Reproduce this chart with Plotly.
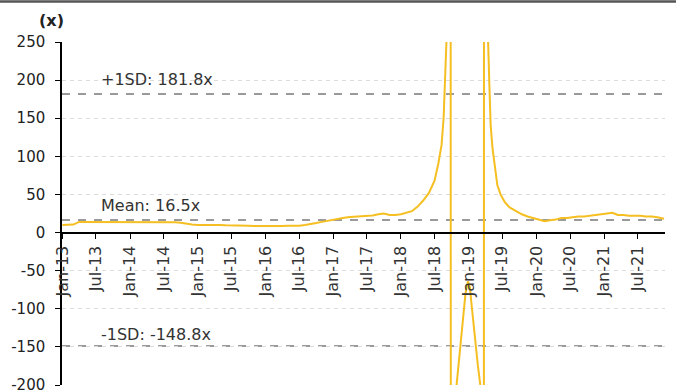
import plotly.graph_objects as go

# ---- data ----
dates = [
    "2013-01-01", "2013-02-01", "2013-03-01", "2013-04-01", "2013-05-01", "2013-06-01",
    "2013-07-01", "2013-08-01", "2013-09-01", "2013-10-01", "2013-11-01", "2013-12-01",
    "2014-01-01", "2014-02-01", "2014-03-01", "2014-04-01", "2014-05-01", "2014-06-01",
    "2014-07-01", "2014-08-01", "2014-09-01", "2014-10-01", "2014-11-01", "2014-12-01",
    "2015-01-01", "2015-02-01", "2015-03-01", "2015-04-01", "2015-05-01", "2015-06-01",
    "2015-07-01", "2015-08-01", "2015-09-01", "2015-10-01", "2015-11-01", "2015-12-01",
    "2016-01-01", "2016-02-01", "2016-03-01", "2016-04-01", "2016-05-01", "2016-06-01",
    "2016-07-01", "2016-08-01", "2016-09-01", "2016-10-01", "2016-11-01", "2016-12-01",
    "2017-01-01", "2017-02-01", "2017-03-01", "2017-04-01", "2017-05-01", "2017-06-01",
    "2017-07-01", "2017-08-01", "2017-09-01", "2017-10-01", "2017-11-01", "2017-12-01",
    "2018-01-01", "2018-02-01", "2018-03-01", "2018-04-01", "2018-05-01", "2018-06-01",
    "2018-07-01", "2018-07-22", "2018-08-08", "2018-08-19", "2018-08-28", "2018-09-04",
    "2018-09-12", "2018-09-22", "2018-10-01", "2018-10-15", "2018-10-28", "2018-11-08",
    "2018-11-18", "2018-11-28", "2018-12-05", "2018-12-15", "2018-12-28", "2019-01-08",
    "2019-01-17", "2019-01-28", "2019-02-08", "2019-02-20", "2019-03-05", "2019-03-14",
    "2019-03-22", "2019-03-27", "2019-04-05", "2019-04-16", "2019-04-22", "2019-04-30",
    "2019-05-10", "2019-05-22", "2019-06-05", "2019-06-22", "2019-07-15", "2019-08-10",
    "2019-09-15", "2019-10-15", "2019-11-15", "2019-12-15", "2020-01-15", "2020-02-15",
    "2020-03-15", "2020-04-15", "2020-05-15", "2020-06-15", "2020-07-15", "2020-08-15",
    "2020-09-15", "2020-10-15", "2020-11-15", "2020-12-15", "2021-01-15", "2021-02-15",
    "2021-03-15", "2021-04-15", "2021-05-15", "2021-06-15", "2021-07-15", "2021-08-15",
    "2021-09-15", "2021-10-15", "2021-11-20",
]
pe_values = [
    10, 10, 10.5, 14, 14, 13.5,
    13.5, 14, 13.5, 13.5, 14, 13.5,
    13.5, 13.5, 14, 13.5, 13.5, 14,
    14, 13.5, 13.5, 13, 11.5, 10.5,
    10, 10, 10.5, 10, 10, 9.5,
    9.5, 9, 9, 9, 8.5, 8.5,
    8, 8, 8.5, 8.5, 9, 9,
    9, 10, 11, 12.5, 14, 15.5,
    17, 18.5, 19.5, 20.5, 21, 21.5,
    22, 22.5, 24, 25, 23, 23,
    24, 26, 28, 34, 42, 52,
    68, 91, 115, 150, 200, 255,
    600, 3000, -3000, -320, -200, -170,
    -150, -122, -100, -80, -64, -72,
    -95, -122, -150, -175, -200, -320,
    -3000, 3000, 600, 250, 200, 140,
    110, 85, 62, 50, 40, 33,
    28, 24, 21, 19, 17, 15,
    16, 17, 19, 19, 20, 21,
    21, 22, 23, 24, 25, 26,
    23, 23, 22, 22, 22, 21,
    21, 20, 18,
]

mean_val = 16.5
sd_plus = 181.8
sd_minus = -148.8
ref_lines = [sd_plus, mean_val, sd_minus]
ref_labels = ["+1SD: 181.8x", "Mean: 16.5x", "-1SD: -148.8x"]

y_tickvals = [250, 200, 150, 100, 50, 0, -50, -100, -150, -200]
y_ticktext = ["250", "200", "150", "100", "50", "0", "-50", "-100", "-150", "-200"]

# ---- figure ----
FONT = "DejaVu Sans"
fig = go.Figure()

fig.add_trace(go.Scatter(
    x=dates, y=pe_values, mode="lines",
    line=dict(color="#F5BF22", width=2),
    hoverinfo="skip", showlegend=False,
))

for v in ref_lines:
    fig.add_shape(type="line", xref="paper", yref="y", x0=0, x1=1, y0=v, y1=v,
                  line=dict(color="#9a9a9a", width=2, dash="8px,8px"), layer="below")

label_shift = [14, 14, 11]
for v, t, s in zip(ref_lines, ref_labels, label_shift):
    fig.add_annotation(text=t, xref="paper", yref="y", x=(99 - 62) / 603, y=v,
                       xanchor="left", yanchor="middle", yshift=s, showarrow=False,
                       font=dict(family=FONT, size=16, color="#333333"))

fig.add_annotation(text="<b>(x)</b>", xref="paper", yref="paper",
                   x=(51 - 62) / 603, y=1 + (42 - 20) / 343, xanchor="center", yanchor="middle",
                   showarrow=False, font=dict(family=FONT, size=16, color="#222222"))

# top border line
fig.add_shape(type="line", xref="paper", yref="paper", x0=-62 / 603, x1=1 + 11 / 603,
              y0=1 + 40.5 / 343, y1=1 + 40.5 / 343, line=dict(color="#555555", width=2.5))

fig.update_layout(
    width=676, height=392,
    margin=dict(l=62, r=11, t=42, b=7, autoexpand=False),
    paper_bgcolor="white", plot_bgcolor="white",
    font=dict(family=FONT, size=15, color="#222222"),
    showlegend=False,
    xaxis=dict(
        type="date",
        range=["2012-12-30", "2021-11-25"],
        anchor="free", position=200 / 450,
        showline=True, linecolor="black", linewidth=1.5,
        ticks="outside", ticklen=6, tickcolor="black", tickwidth=1.2,
        tick0="2013-01-01", dtick="M6", tickformat="%b-%y",
        tickangle=-90, tickfont=dict(family=FONT, size=16, color="#333333"),
        showgrid=False, zeroline=False, automargin=False,
    ),
    yaxis=dict(
        range=[-200, 250],
        tickvals=y_tickvals, ticktext=y_ticktext,
        showline=True, linecolor="black", linewidth=1.5,
        ticks="outside", ticklen=5, tickcolor="black",
        ticklabelstandoff=7, ticklabeloverflow="allow",
        showgrid=True, gridcolor="#dcdcdc", griddash="4px,4px", gridwidth=1,
        zeroline=False, automargin=False,
        tickfont=dict(family=FONT, size=15, color="#222222"),
    ),
)

fig.write_html("out.html", config={"displayModeBar": False},
               post_script="document.body.style.margin='0px';")
